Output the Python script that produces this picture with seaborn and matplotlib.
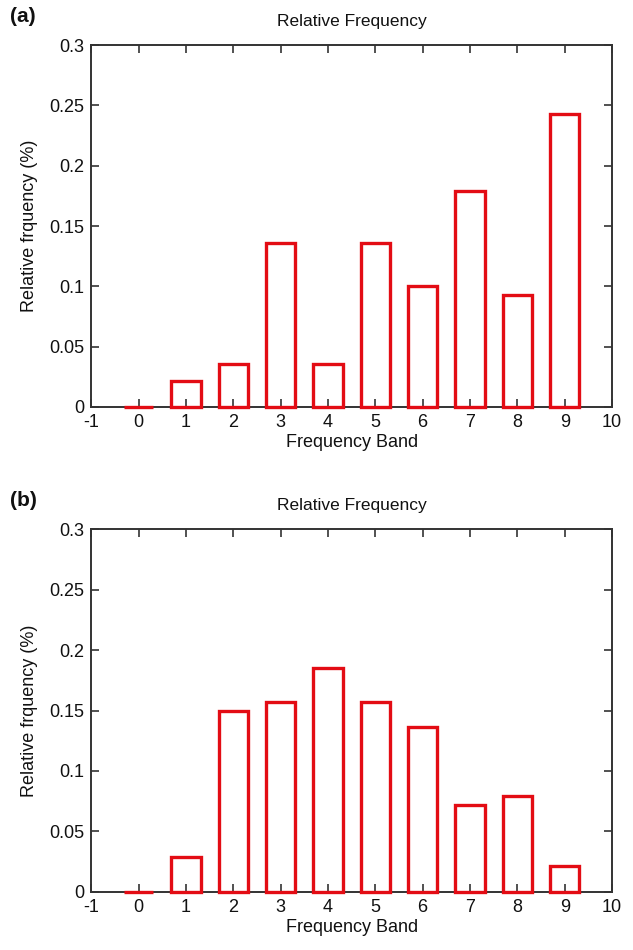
import numpy as np
import pandas as pd
import matplotlib
matplotlib.use("Agg")
import matplotlib.pyplot as plt
import seaborn as sns

# frequency bands and relative frequencies
bands = [0, 1, 2, 3, 4, 5, 6, 7, 8, 9]
freq_a = [0.0, 0.0215, 0.036, 0.136, 0.036, 0.136, 0.1, 0.179, 0.093, 0.243]
freq_b = [0.0, 0.029, 0.150, 0.157, 0.185, 0.157, 0.136, 0.072, 0.079, 0.0215]
xticks = list(range(-1, 11))
yticks = [0, 0.05, 0.1, 0.15, 0.2, 0.25, 0.3]
ytick_labels = ["0", "0.05", "0.1", "0.15", "0.2", "0.25", "0.3"]
panel_labels = ["(a)", "(b)"]

RED = "#e30c14"
AXC = "#333333"


def initSeaborn():
    sns.set_theme(style="ticks", context="paper")
    plt.rcParams["font.family"] = ["Liberation Sans", "DejaVu Sans"]


def drawPanel(ax, values, label):
    df = pd.DataFrame({"band": bands, "freq": values})
    sns.barplot(data=df, x="band", y="freq", ax=ax, native_scale=True,
                width=0.62, fill=False, color=RED, linewidth=2.4, err_kws={"linewidth": 0})
    for p in ax.patches:
        p.set_edgecolor(RED)
        p.set_linewidth(2.4)
        p.set_zorder(4)
        p.set_clip_on(False)
    ax.set_xlim(-1, 10)
    ax.set_ylim(0, 0.3)
    ax.set_xticks(xticks)
    ax.set_xticklabels([str(t) for t in xticks])
    ax.set_yticks(yticks)
    ax.set_yticklabels(ytick_labels)
    ax.tick_params(direction="in", top=True, right=True, length=6, width=1.2,
                   color=AXC, labelsize=13, labelcolor="#111111", pad=5)
    for s in ax.spines.values():
        s.set_visible(True)
        s.set_color(AXC)
        s.set_linewidth(1.4)
    ax.set_title("Relative Frequency", fontsize=12.5, color="#111111", pad=14)
    ax.set_xlabel("Frequency Band", fontsize=13, color="#111111", labelpad=2)
    ax.set_ylabel("Relative frquency (%)", fontsize=13, color="#111111", labelpad=8)
    ax.text(-0.155, 1.08, label, transform=ax.transAxes, fontsize=15,
            fontweight="bold", color="#111111", va="center", ha="left")


def main():
    initSeaborn()
    fig = plt.figure(figsize=(6.33, 9.5), dpi=100)
    ax1 = fig.add_axes([0.144, 0.5716, 0.823, 0.381])
    ax2 = fig.add_axes([0.144, 0.0611, 0.823, 0.382])
    drawPanel(ax1, freq_a, panel_labels[0])
    drawPanel(ax2, freq_b, panel_labels[1])
    fig.savefig("out.png", dpi=100, facecolor="white")
    plt.close(fig)


if __name__ == "__main__":
    main()
